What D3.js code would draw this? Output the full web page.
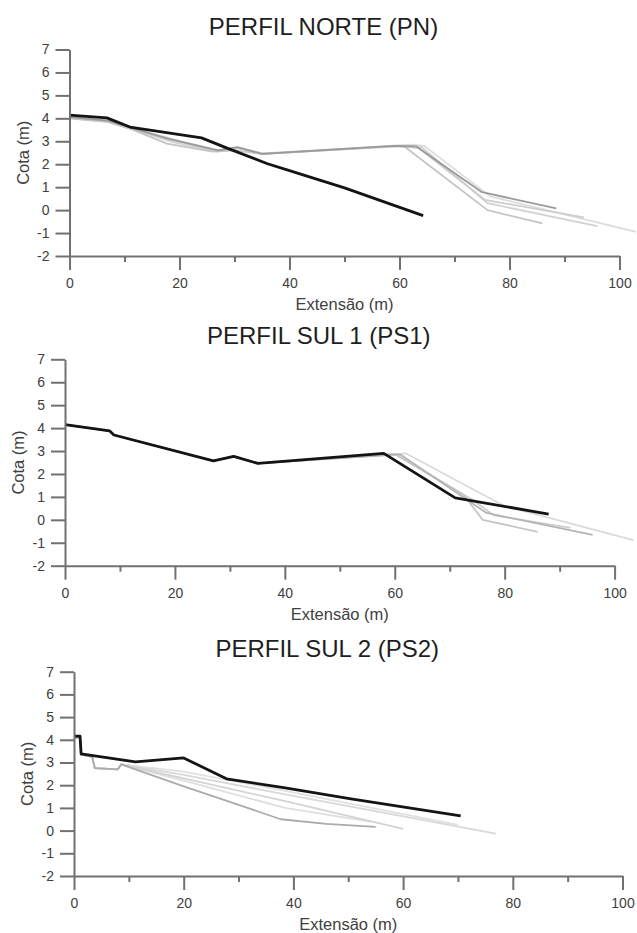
<!DOCTYPE html>
<html>
<head>
<meta charset="utf-8">
<script src="https://cdn.jsdelivr.net/npm/d3@7"></script>
<style>
  body { margin: 0; background: #fff; }
  svg { display: block; }
  .tick text { font-family: "Liberation Sans", Arial, sans-serif; }
</style>
</head>
<body>
<svg id="chart" width="637" height="933"></svg>
<script>
// ticks
const xMajor = [0, 20, 40, 60, 80, 100];
const xMinor = [10, 30, 50, 70, 90];
const yTicks = [-2, -1, 0, 1, 2, 3, 4, 5, 6, 7];

// PERFIL NORTE (PN)
const pnBlack = [[0, 4.14], [6.8, 4.02], [11, 3.62], [24, 3.15], [29, 2.67], [36, 2.02], [40, 1.72], [50, 0.97], [64.3, -0.24]];
const pnGray = [
  [[0, 4.05], [7, 3.9], [11, 3.6], [18, 3.1], [27, 2.6], [30.5, 2.75], [35, 2.45], [59, 2.8], [63, 2.78], [75, 0.78], [88.5, 0.08]],
  [[0, 4.0], [7, 3.85], [11, 3.55], [17.7, 2.9], [26, 2.55], [30, 2.6], [35, 2.45], [59.5, 2.8], [61, 2.75], [76, 0.0], [86, -0.58]],
  [[0, 4.05], [7, 3.88], [11, 3.58], [20, 3.0], [26.5, 2.6], [30.5, 2.7], [35, 2.45], [60, 2.78], [63.5, 2.7], [75.5, 0.45], [93.5, -0.32]],
  [[0, 4.0], [7, 3.85], [11, 3.55], [19, 2.95], [27, 2.55], [31, 2.7], [35.5, 2.45], [60, 2.8], [64, 2.75], [76, 0.3], [96, -0.7]],
  [[0, 4.05], [7, 3.9], [11, 3.6], [20, 3.02], [27, 2.6], [30.5, 2.72], [35, 2.47], [62, 2.85], [64.5, 2.8], [76.5, 0.6], [103, -0.95]]
];
const pnGrayColors = ["#9a9a9a", "#c4c4c4", "#cdcdcd", "#d2d2d2", "#dcdcdc"];

// PERFIL SUL 1 (PS1)
const ps1Black = [[0, 4.15], [8.1, 3.88], [8.9, 3.7], [27, 2.57], [30.7, 2.77], [35.1, 2.46], [58, 2.9], [71, 0.96], [88, 0.25]];
const ps1Gray = [
  [[0, 4.15], [8.1, 3.88], [8.9, 3.7], [27, 2.57], [30.7, 2.77], [35.1, 2.46], [60, 2.88], [72.5, 1.1], [76, 0.0], [86, -0.52]],
  [[0, 4.15], [8.1, 3.88], [8.9, 3.7], [27, 2.57], [30.7, 2.77], [35.1, 2.46], [61, 2.85], [76.7, 0.3], [96, -0.66]],
  [[0, 4.15], [8.1, 3.88], [8.9, 3.7], [27, 2.57], [30.7, 2.77], [35.1, 2.46], [62, 2.9], [73.7, 1.4], [80, 0.6], [103.4, -0.88]],
  [[0, 4.15], [8.1, 3.88], [8.9, 3.7], [27, 2.57], [30.7, 2.77], [35.1, 2.46], [60, 2.86], [74, 0.9], [78, 0.2], [92, -0.35]]
];
const ps1GrayColors = ["#c6c6c6", "#b4b4b4", "#dadada", "#cfcfcf"];

// PERFIL SUL 2 (PS2)
const ps2Black = [[0, 4.16], [1.1, 4.16], [1.3, 3.38], [11.2, 3.03], [20, 3.2], [27.8, 2.28], [38.5, 1.88], [50.5, 1.4], [70.5, 0.65]];
const ps2Gray = [
  [[0, 4.1], [1.1, 4.1], [1.3, 3.35], [3.3, 3.25], [3.8, 2.75], [8, 2.7], [8.6, 2.92], [20, 1.95], [28, 1.3], [37.7, 0.5], [46, 0.3], [55, 0.16]],
  [[0, 4.1], [1.1, 4.1], [1.3, 3.35], [3.3, 3.25], [3.8, 2.75], [8, 2.7], [8.6, 2.92], [20, 2.3], [38.5, 1.3], [60, 0.08]],
  [[0, 4.1], [1.1, 4.1], [1.3, 3.35], [3.3, 3.25], [3.8, 2.75], [8, 2.7], [8.6, 2.92], [20, 2.45], [38.5, 1.6], [76.9, -0.13]],
  [[0, 4.1], [1.1, 4.1], [1.3, 3.35], [3.3, 3.25], [3.8, 2.75], [8, 2.7], [8.6, 2.92], [20, 2.6], [38.5, 1.75], [70, 0.25]],
  [[0, 4.1], [1.1, 4.1], [1.3, 3.35], [3.3, 3.25], [3.8, 2.75], [8, 2.7], [8.6, 2.92], [20, 2.2], [38.5, 1.0], [54, 0.4]]
];
const ps2GrayColors = ["#ababab", "#d3d3d3", "#d8d8d8", "#e0e0e0", "#dedede"];

const panels = [
  { title: "PERFIL NORTE (PN)", black: pnBlack, gray: pnGray, colors: pnGrayColors, left: 69.5, right: 619.5, top: 49.5, bottom: 256 },
  { title: "PERFIL SUL 1 (PS1)", black: ps1Black, gray: ps1Gray, colors: ps1GrayColors, left: 65, right: 614.6, top: 359.3, bottom: 565.7 },
  { title: "PERFIL SUL 2 (PS2)", black: ps2Black, gray: ps2Gray, colors: ps2GrayColors, left: 74, right: 622.5, top: 671.7, bottom: 876 }
];

const svg = d3.select("#chart");
const font = "'Liberation Sans', Arial, sans-serif";
const axisColor = "#717171";

svg.append("rect").attr("width", 637).attr("height", 933).attr("fill", "#fff");

panels.forEach(p => {
  const x = d3.scaleLinear().domain([0, 100]).range([p.left, p.right]);
  const y = d3.scaleLinear().domain([-2, 7]).range([p.bottom, p.top]);
  const g = svg.append("g");

  const line = d3.line().x(d => x(d[0])).y(d => y(d[1]));

  // gray profiles, lightest first so darker ones stay on top; black last
  const order = d3.range(p.gray.length)
    .sort((a, b) => d3.hsl(p.colors[b]).l - d3.hsl(p.colors[a]).l);

  g.selectAll(".gray")
    .data(order)
    .enter()
      .append("path")
      .attr("class", "gray")
      .attr("d", i => line(p.gray[i]))
      .attr("fill", "none")
      .attr("stroke", i => p.colors[i])
      .attr("stroke-width", 1.8)
      .attr("stroke-linejoin", "round");

  g.append("path")
    .datum(p.black)
    .attr("d", line)
    .attr("fill", "none")
    .attr("stroke", "#141414")
    .attr("stroke-width", 2.8)
    .attr("stroke-linejoin", "round");

  // axes
  const yAxis = g.append("g")
    .attr("transform", `translate(${p.left},0)`)
    .call(d3.axisLeft(y).tickValues(yTicks).tickSize(14).tickSizeOuter(0).tickPadding(6).tickFormat(d => String(d)));

  const xAxis = g.append("g")
    .attr("transform", `translate(0,${p.bottom})`)
    .call(d3.axisBottom(x).tickValues(xMajor).tickSize(14).tickSizeOuter(0).tickPadding(8).tickFormat(d => String(d)));

  const xAxisMinor = g.append("g")
    .attr("transform", `translate(0,${p.bottom})`)
    .call(d3.axisBottom(x).tickValues(xMinor).tickSize(6).tickSizeOuter(0).tickFormat(""));
  xAxisMinor.select(".domain").remove();

  [yAxis, xAxis, xAxisMinor].forEach(a => {
    a.selectAll("path, line").attr("stroke", axisColor).attr("stroke-width", 2);
    a.selectAll("text").attr("fill", "#404040").style("font-size", "14px").style("font-family", font);
  });

  // titles
  g.append("text")
    .attr("x", (p.left + p.right) / 2 - 21)
    .attr("y", p.top - 15)
    .attr("text-anchor", "middle")
    .attr("fill", "#1e1e1e")
    .style("font-family", font)
    .style("font-size", "24px")
    .text(p.title);

  g.append("text")
    .attr("x", (p.left + p.right) / 2)
    .attr("y", p.bottom + 54)
    .attr("text-anchor", "middle")
    .attr("fill", "#404040")
    .style("font-family", font)
    .style("font-size", "16.5px")
    .text("Extensão (m)");

  g.append("text")
    .attr("transform", `translate(${p.left - 41},${(p.top + p.bottom) / 2}) rotate(-90)`)
    .attr("text-anchor", "middle")
    .attr("fill", "#404040")
    .style("font-family", font)
    .style("font-size", "16.5px")
    .text("Cota (m)");
});
</script>
</body>
</html>
